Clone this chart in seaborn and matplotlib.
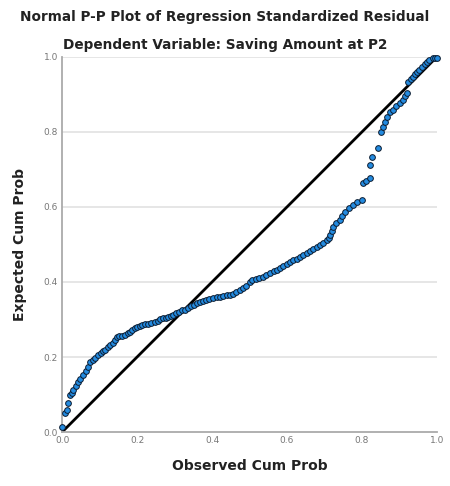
import matplotlib
matplotlib.use("Agg")
import matplotlib.pyplot as plt
import seaborn as sns
import pandas as pd

# Observed vs expected cumulative probabilities of standardized residuals
observed_cum_prob = [
    0.000, 0.008, 0.012, 0.015, 0.021, 0.026, 0.030, 0.036, 0.043, 0.049,
    0.056, 0.063, 0.070, 0.075, 0.082, 0.089, 0.096, 0.104, 0.110, 0.115,
    0.122, 0.129, 0.136, 0.141, 0.146, 0.152, 0.160, 0.168, 0.175, 0.181,
    0.187, 0.194, 0.200, 0.207, 0.213, 0.220, 0.228, 0.236, 0.248, 0.255,
    0.262, 0.270, 0.276, 0.283, 0.290, 0.297, 0.305, 0.312, 0.320, 0.328,
    0.336, 0.344, 0.352, 0.360, 0.368, 0.376, 0.384, 0.392, 0.403, 0.412,
    0.420, 0.430, 0.440, 0.448, 0.456, 0.465, 0.474, 0.483, 0.490, 0.500,
    0.507, 0.516, 0.526, 0.536, 0.545, 0.555, 0.565, 0.573, 0.582, 0.590,
    0.600, 0.608, 0.617, 0.626, 0.635, 0.643, 0.652, 0.661, 0.670, 0.680,
    0.688, 0.697, 0.707, 0.712, 0.716, 0.720, 0.723, 0.732, 0.741, 0.748,
    0.755, 0.765, 0.776, 0.788, 0.800, 0.803, 0.812, 0.821, 0.821, 0.827,
    0.843, 0.851, 0.856, 0.862, 0.867, 0.875, 0.883, 0.892, 0.901, 0.909,
    0.915, 0.920, 0.923, 0.930, 0.936, 0.942, 0.947, 0.953, 0.960, 0.967,
    0.973, 0.980, 0.989, 0.995, 1.000,
]
expected_cum_prob = [
    0.013, 0.050, 0.060, 0.077, 0.099, 0.105, 0.112, 0.122, 0.133, 0.141,
    0.152, 0.163, 0.174, 0.187, 0.193, 0.198, 0.205, 0.210, 0.215, 0.219,
    0.226, 0.231, 0.237, 0.246, 0.254, 0.256, 0.257, 0.258, 0.264, 0.268,
    0.272, 0.277, 0.280, 0.283, 0.285, 0.287, 0.289, 0.291, 0.294, 0.297,
    0.300, 0.303, 0.305, 0.307, 0.310, 0.313, 0.317, 0.320, 0.325, 0.326,
    0.330, 0.335, 0.339, 0.344, 0.347, 0.350, 0.352, 0.355, 0.357, 0.359,
    0.361, 0.362, 0.364, 0.365, 0.369, 0.373, 0.378, 0.383, 0.390, 0.400,
    0.405, 0.408, 0.411, 0.413, 0.418, 0.423, 0.428, 0.432, 0.438, 0.443,
    0.448, 0.453, 0.458, 0.462, 0.467, 0.472, 0.477, 0.482, 0.487, 0.493,
    0.498, 0.504, 0.512, 0.517, 0.525, 0.535, 0.547, 0.556, 0.565, 0.576,
    0.587, 0.596, 0.605, 0.612, 0.619, 0.664, 0.670, 0.677, 0.712, 0.733,
    0.757, 0.800, 0.813, 0.827, 0.840, 0.853, 0.859, 0.868, 0.877, 0.885,
    0.895, 0.904, 0.933, 0.940, 0.947, 0.953, 0.960, 0.966, 0.973, 0.980,
    0.987, 0.992, 0.997, 0.998, 0.998,
]
reference_line = [0.0, 1.0]
tick_values = [0.0, 0.2, 0.4, 0.6, 0.8, 1.0]
tick_labels = ["0.0", "0.2", "0.4", "0.6", "0.8", "1.0"]

title = "Normal P-P Plot of Regression Standardized Residual"
subtitle = "Dependent Variable: Saving Amount at P2"

df = pd.DataFrame({"Observed Cum Prob": observed_cum_prob,
                   "Expected Cum Prob": expected_cum_prob})

sns.set_theme(style="white")
plt.rcParams["font.family"] = ["DejaVu Sans"]

fig = plt.figure(figsize=(4.5, 4.86), dpi=100)
ax = fig.add_axes([0.138, 0.111, 0.833, 0.772])

# horizontal grid lines
for v in tick_values[1:]:
    ax.axhline(v, color="#e2e2e2", lw=1.2, zorder=0)

# 45-degree reference line
sns.lineplot(x=reference_line, y=reference_line, ax=ax, color="black",
             lw=2.0, zorder=2)

sns.scatterplot(data=df, x="Observed Cum Prob", y="Expected Cum Prob", ax=ax,
                s=17, color="#238be0", edgecolor="#0c1c30", linewidth=0.7,
                zorder=3, clip_on=False)

ax.set_xlim(0, 1)
ax.set_ylim(0, 1)
ax.set_xticks(tick_values)
ax.set_xticklabels(tick_labels)
ax.set_yticks(tick_values)
ax.set_yticklabels(tick_labels)
ax.tick_params(axis="both", length=0, labelsize=6.5, colors="#777777", pad=3)

for side in ["top", "right"]:
    ax.spines[side].set_visible(False)
for side in ["left", "bottom"]:
    ax.spines[side].set_color("#aaaaaa")
    ax.spines[side].set_linewidth(1.3)

ax.set_xlabel("Observed Cum Prob", fontsize=10, fontweight="bold",
              color="#222222", labelpad=10)
ax.set_ylabel("Expected Cum Prob", fontsize=10, fontweight="bold",
              color="#222222", labelpad=12)

fig.text(0.5, 0.965, title, ha="center", va="center", fontsize=9.8,
         fontweight="bold", color="#222222")
fig.text(0.5, 0.907, subtitle, ha="center", va="center", fontsize=9.8,
         fontweight="bold", color="#222222")

fig.savefig("out.png", dpi=100, facecolor="white")
